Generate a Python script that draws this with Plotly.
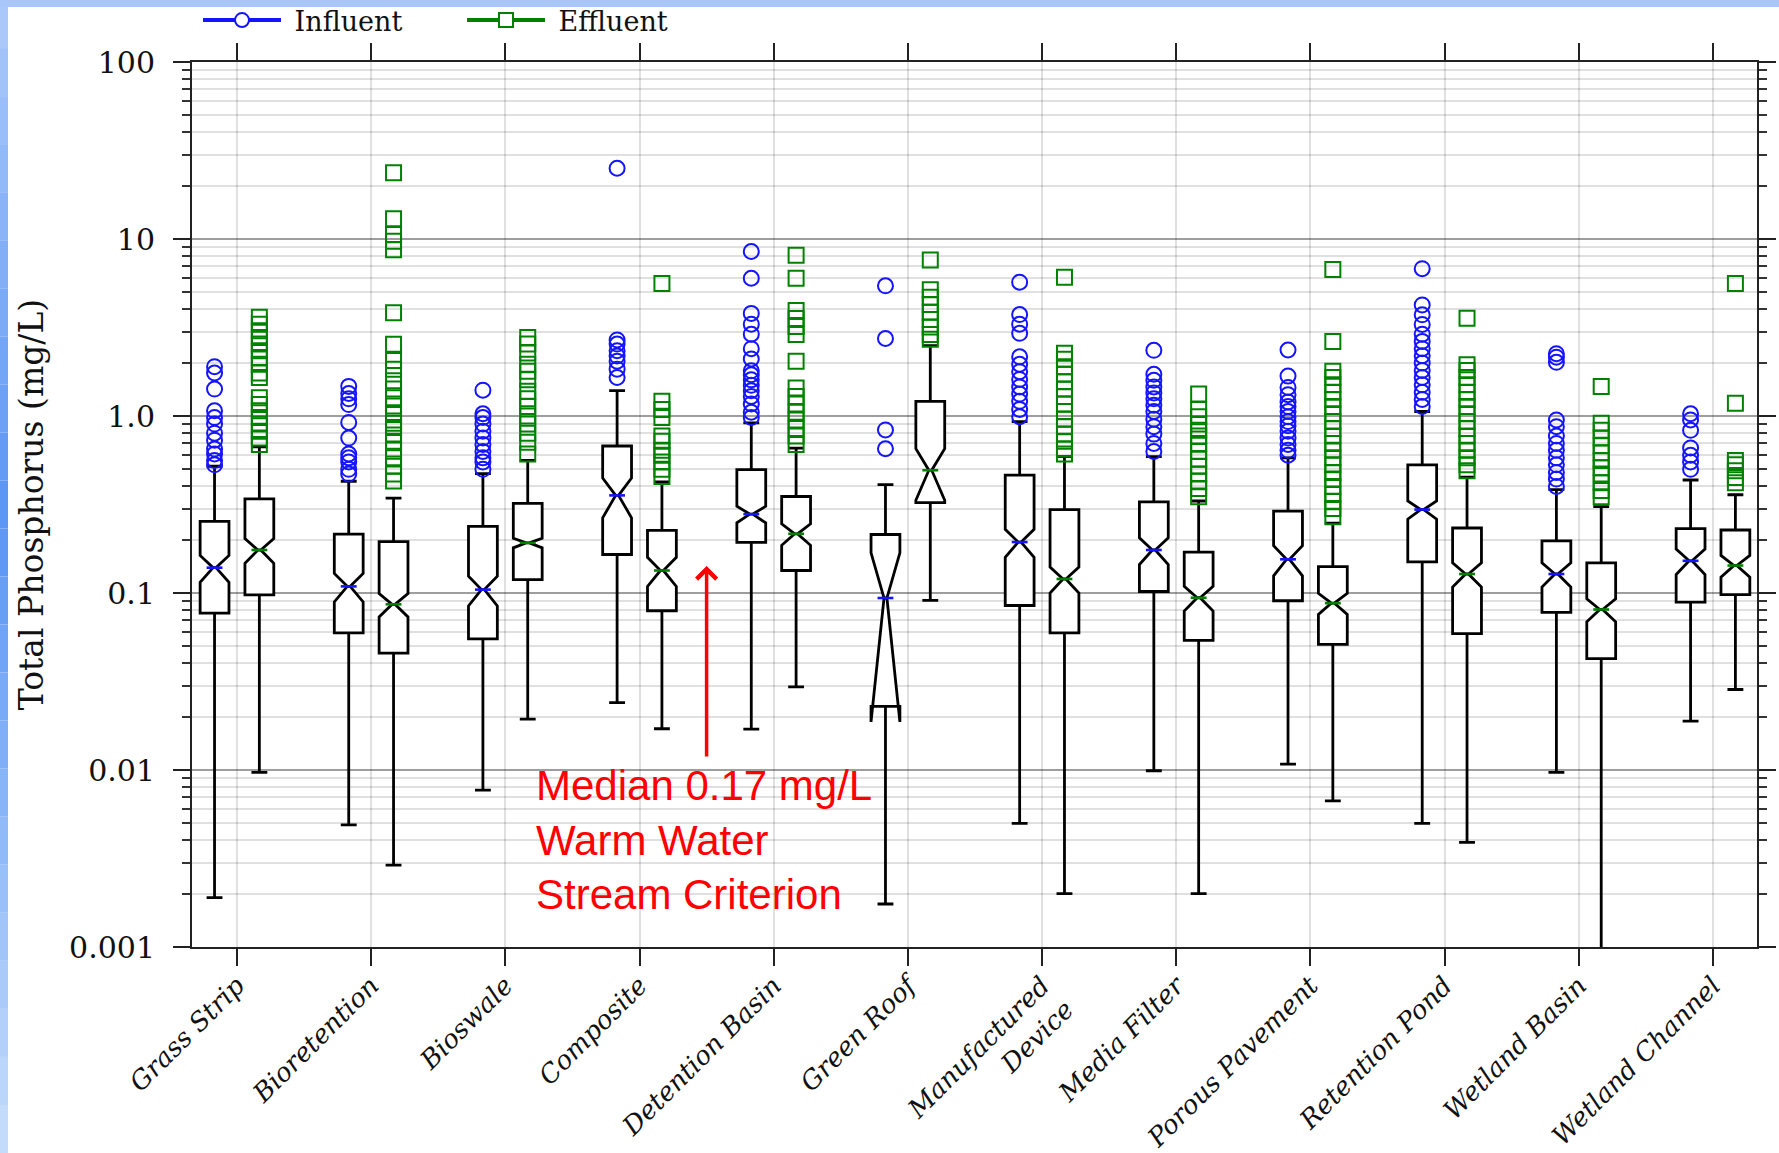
import math
import plotly.graph_objects as go

# ---------------- data ----------------
CATEGORIES = ["Grass Strip", "Bioretention", "Bioswale", "Composite", "Detention Basin",
              "Green Roof", "Manufactured<br>Device", "Media Filter", "Porous Pavement",
              "Retention Pond", "Wetland Basin", "Wetland Channel"]

INF_LOWER = [0.0019, 0.0049, 0.0077, 0.024, 0.017, 0.00175, 0.005, 0.0099, 0.0108, 0.005, 0.0097, 0.0189]
INF_Q1 = [0.077, 0.0595, 0.055, 0.165, 0.193, 0.0229, 0.085, 0.102, 0.0904, 0.150, 0.0778, 0.0889]
INF_MEDIAN = [0.139, 0.109, 0.1045, 0.356, 0.279, 0.0937, 0.194, 0.175, 0.155, 0.296, 0.128, 0.152]
INF_Q3 = [0.254, 0.215, 0.238, 0.677, 0.498, 0.214, 0.463, 0.327, 0.29, 0.529, 0.197, 0.231]
INF_UPPER = [0.52, 0.428, 0.473, 1.39, 0.914, 0.41, 0.93, 0.59, 0.58, 1.06, 0.384, 0.435]
INF_NOTCH = [0.024, 0.02, 0.02, 0.09, 0.03, 0.075, 0.035, 0.03, 0.03, 0.035, 0.02, 0.025]
INF_OUTLIERS = [
    [1.90, 1.75, 1.42, 1.07, 0.98, 0.90, 0.80, 0.73, 0.65, 0.61, 0.56, 0.53],
    [1.47, 1.34, 1.25, 1.16, 0.92, 0.75, 0.61, 0.58, 0.55, 0.50, 0.47],
    [1.40, 1.03, 0.98, 0.90, 0.82, 0.75, 0.69, 0.63, 0.58, 0.55, 0.50],
    [25.1, 2.69, 2.55, 2.34, 2.18, 2.04, 1.84, 1.65],
    [8.5, 6.0, 3.8, 3.3, 2.9, 2.4, 2.1, 1.8, 1.71, 1.6, 1.49, 1.39, 1.29, 1.17, 1.05, 0.98],
    [5.44, 2.74, 0.834, 0.653],
    [5.7, 3.74, 3.3, 2.93, 2.16, 1.96, 1.78, 1.61, 1.46, 1.33, 1.21, 1.09, 0.99],
    [2.35, 1.72, 1.59, 1.46, 1.35, 1.25, 1.15, 1.06, 0.96, 0.87, 0.79, 0.70, 0.63],
    [2.36, 1.68, 1.45, 1.32, 1.20, 1.13, 1.06, 0.99, 0.93, 0.88, 0.82, 0.75, 0.69, 0.64, 0.60],
    [6.8, 4.24, 3.73, 3.29, 2.90, 2.64, 2.40, 2.19, 1.99, 1.81, 1.65, 1.50, 1.36, 1.24, 1.13],
    [2.25, 2.15, 2.01, 0.95, 0.87, 0.77, 0.70, 0.64, 0.58, 0.53, 0.48, 0.44, 0.40],
    [1.03, 0.95, 0.83, 0.66, 0.60, 0.55, 0.50],
]

EFF_LOWER = [0.0097, 0.0029, 0.0194, 0.0171, 0.0295, 0.0908, 0.002, 0.002, 0.0067, 0.0039, 0.0008, 0.0285]
EFF_Q1 = [0.0975, 0.0458, 0.119, 0.0794, 0.134, 0.324, 0.0596, 0.054, 0.0513, 0.0589, 0.0426, 0.0978]
EFF_MEDIAN = [0.175, 0.0863, 0.192, 0.134, 0.216, 0.494, 0.12, 0.094, 0.0876, 0.128, 0.0807, 0.143]
EFF_Q3 = [0.340, 0.195, 0.321, 0.226, 0.351, 1.21, 0.296, 0.17, 0.141, 0.233, 0.148, 0.227]
EFF_UPPER = [0.67, 0.344, 0.562, 0.424, 0.658, 2.50, 0.59, 0.331, 0.248, 0.452, 0.308, 0.359]
EFF_NOTCH = [0.028, 0.013, 0.012, 0.025, 0.03, 0.16, 0.02, 0.015, 0.012, 0.02, 0.012, 0.02]
EFF_OUTLIERS = [
    [3.61, 3.3, 3.03, 2.78, 2.55, 2.34, 2.14, 1.96, 1.75, 1.65, 1.27, 1.16, 1.07, 0.98, 0.90, 0.82, 0.75, 0.69],
    [23.7, 13.0, 10.6, 9.7, 8.7, 3.83, 2.54, 2.06, 1.84, 1.58, 1.42, 1.27, 1.14, 1.02, 0.91, 0.86, 0.78,
     0.72, 0.65, 0.58, 0.52, 0.47, 0.43],
    [2.78, 2.55, 2.27, 1.96, 1.79, 1.60, 1.38, 1.25, 1.13, 1.0, 0.90, 0.80, 0.71, 0.61],
    [5.6, 1.21, 1.09, 0.98, 0.77, 0.72, 0.64, 0.60, 0.55, 0.50, 0.455],
    [8.1, 6.0, 3.95, 3.56, 3.2, 2.89, 2.04, 1.44, 1.29, 1.17, 1.05, 0.95, 0.85, 0.77, 0.69],
    [7.6, 5.17, 4.69, 4.26, 3.86, 3.51, 3.18, 2.89, 2.71],
    [6.08, 2.26, 2.09, 1.90, 1.72, 1.56, 1.42, 1.29, 1.17, 1.06, 0.96, 0.87, 0.79, 0.72, 0.65, 0.61],
    [1.33, 1.09, 0.99, 0.90, 0.83, 0.77, 0.70, 0.63, 0.57, 0.52, 0.47, 0.43, 0.39, 0.35],
    [6.72, 2.64, 1.79, 1.65, 1.50, 1.36, 1.24, 1.13, 1.03, 0.93, 0.85, 0.77, 0.70, 0.64, 0.58, 0.53,
     0.48, 0.44, 0.40, 0.36, 0.33, 0.30, 0.27],
    [3.57, 1.95, 1.81, 1.65, 1.50, 1.36, 1.24, 1.13, 1.03, 0.93, 0.85, 0.77, 0.70, 0.64, 0.58, 0.53, 0.49],
    [1.47, 0.91, 0.83, 0.75, 0.68, 0.62, 0.56, 0.51, 0.47, 0.42, 0.38, 0.35],
    [5.6, 1.18, 0.56, 0.53, 0.49, 0.45, 0.42],
]

CRITERION = 0.186   # red reference line (drawn position)
Y_TICK_VALUES = [0.001, 0.01, 0.1, 1.0, 10, 100]
Y_TICK_LABELS = ["0.001", "0.01", "0.1", "1.0", "10", "100"]
ANNOTATION_TEXT = "Median 0.17 mg/L<br>Warm Water<br>Stream Criterion"

# ---------------- layout constants ----------------
W, H = 1779, 1153
ML, MR, MT, MB = 192, 22, 62, 206
PW, PH = W - ML - MR, H - MT - MB
X_RANGE = [-0.335, 11.328]
BOX_W = 0.215
NOTCH_W = 0.45
OFFSET = 0.167
BLUE = "rgb(20,20,255)"
GREEN = "rgb(0,130,0)"
SERIF = "DejaVu Serif"
INK = "#111111"


def px_x(px):
    return (px - ML) / PW


def px_y(py):
    return (H - MB - py) / PH


def log_y_at_px(py):
    return 2 - (py - MT) / (PH / 5.0)


def data_x_at_px(px):
    return X_RANGE[0] + (px - ML) / PW * (X_RANGE[1] - X_RANGE[0])


fig = go.Figure()
idx = list(range(len(CATEGORIES)))


def add_series(name, offset, color, symbol, lower, q1, med, q3, upper, notch, outliers):
    pos = [i + offset for i in idx]
    fig.add_trace(go.Box(
        x=pos, q1=q1, median=med, q3=q3, lowerfence=lower, upperfence=upper,
        notchspan=notch, notched=True, notchwidth=NOTCH_W, width=BOX_W,
        whiskerwidth=0.55, orientation="v", boxpoints=False,
        line=dict(color="black", width=2.8), fillcolor="white",
        showlegend=False, name=name, hoverinfo="skip"))
    half = BOX_W / 2 * (1 - NOTCH_W)
    mx, my = [], []
    for p, m in zip(pos, med):
        mx += [p - half, p + half, None]
        my += [m, m, None]
    fig.add_trace(go.Scatter(x=mx, y=my, mode="lines", line=dict(color=color, width=2.6),
                             showlegend=False, hoverinfo="skip"))
    ox, oy = [], []
    for p, outs in zip(pos, outliers):
        ox += [p] * len(outs)
        oy += outs
    fig.add_trace(go.Scatter(x=ox, y=oy, mode="markers", showlegend=False, name=name,
                             marker=dict(symbol=symbol + "-open", size=15, color=color,
                                         line=dict(width=2, color=color))))
    fig.add_trace(go.Scatter(x=[None], y=[None], mode="lines+markers",
                             name="\u00a0" + name,
                             line=dict(color=color, width=4),
                             marker=dict(symbol=symbol, size=14, color="white",
                                         line=dict(color=color, width=2))))


add_series("Influent", -OFFSET, BLUE, "circle", INF_LOWER, INF_Q1, INF_MEDIAN, INF_Q3,
           INF_UPPER, INF_NOTCH, INF_OUTLIERS)
add_series("Effluent", OFFSET, GREEN, "square", EFF_LOWER, EFF_Q1, EFF_MEDIAN, EFF_Q3,
           EFF_UPPER, EFF_NOTCH, EFF_OUTLIERS)

minor_vals = [m * 10 ** e for e in range(-3, 2) for m in range(2, 10)]

shapes = []
# red criterion line
shapes.append(dict(type="line", xref="paper", yref="y", x0=px_x(195), x1=px_x(1747),
                   y0=math.log10(CRITERION), y1=math.log10(CRITERION),
                   line=dict(color="rgb(255,0,0)", width=4.5), layer="above"))
# slide border (blue gradient band on left, light band on top)
n_seg = 24
for k in range(n_seg):
    t = k / (n_seg - 1)
    if t < 0.45:
        u = t / 0.45
        c = (int(170 - 80 * u), int(200 - 50 * u), int(250 - 5 * u))
    else:
        u = (t - 0.45) / 0.55
        c = (int(90 + 105 * u), int(150 + 70 * u), int(245 + 7 * u))
    y0p = k * H / n_seg
    y1p = (k + 1) * H / n_seg
    shapes.append(dict(type="rect", xref="paper", yref="paper",
                       x0=px_x(0), x1=px_x(8), y0=px_y(y1p), y1=px_y(y0p),
                       fillcolor="rgb(%d,%d,%d)" % c, line=dict(width=0), layer="above"))
shapes.append(dict(type="rect", xref="paper", yref="paper", x0=px_x(0), x1=px_x(W),
                   y0=px_y(7), y1=px_y(0), fillcolor="rgb(168,198,250)",
                   line=dict(width=0), layer="above"))

annotations = [
    dict(text=ANNOTATION_TEXT, xref="x", yref="y", x=data_x_at_px(534), y=log_y_at_px(760),
         xanchor="left", yanchor="top", align="left", showarrow=False,
         font=dict(family="Liberation Sans", size=42, color="rgb(255,0,0)")),
    dict(text="", xref="x", yref="y", x=3.5, y=log_y_at_px(566), ax=0, ay=192,
         showarrow=True, arrowhead=4, arrowsize=1.1, arrowwidth=3.5,
         arrowcolor="rgb(255,0,0)"),
]

fig.update_layout(
    width=W, height=H,
    margin=dict(l=ML, r=MR, t=MT, b=MB, autoexpand=False),
    paper_bgcolor="white", plot_bgcolor="white",
    boxmode="overlay",
    font=dict(family=SERIF, color=INK),
    showlegend=True,
    legend=dict(orientation="h", x=px_x(198), xanchor="left", y=px_y(-4), yanchor="top",
                font=dict(family=SERIF, size=27, color=INK),
                bgcolor="rgba(0,0,0,0)", itemwidth=78,
                entrywidth=171, entrywidthmode="pixels"),
    shapes=shapes,
    annotations=annotations,
    xaxis=dict(range=X_RANGE, tickmode="array", tickvals=idx, ticktext=CATEGORIES,
               tickangle=-45, tickfont=dict(family=SERIF, size=26, style="italic", color=INK),
               ticks="outside", ticklen=17, tickwidth=2, tickcolor="#222",
               ticklabelstandoff=-6,
               showline=True, linecolor="#222", linewidth=2, mirror="ticks",
               showgrid=True, gridcolor="rgba(0,0,0,0.12)", gridwidth=1.5, zeroline=False),
    yaxis=dict(type="log", range=[-3, 2], tickmode="array", tickvals=Y_TICK_VALUES,
               ticktext=Y_TICK_LABELS, tickfont=dict(family=SERIF, size=30, color=INK),
               ticks="outside", ticklen=17, tickwidth=2, tickcolor="#222",
               ticklabelstandoff=12,
               showline=True, linecolor="#222", linewidth=2, mirror="ticks",
               showgrid=True, gridcolor="rgba(0,0,0,0.38)", gridwidth=1.5, zeroline=False,
               minor=dict(tickmode="array", tickvals=minor_vals, ticks="outside", ticklen=8,
                          tickwidth=1.5, tickcolor="#333", showgrid=True,
                          gridcolor="rgba(0,0,0,0.12)", gridwidth=1.5),
               title=dict(text="Total Phosphorus (mg/L)", standoff=16,
                          font=dict(family=SERIF, size=33, color=INK))),
)

fig.write_html("out.html")
